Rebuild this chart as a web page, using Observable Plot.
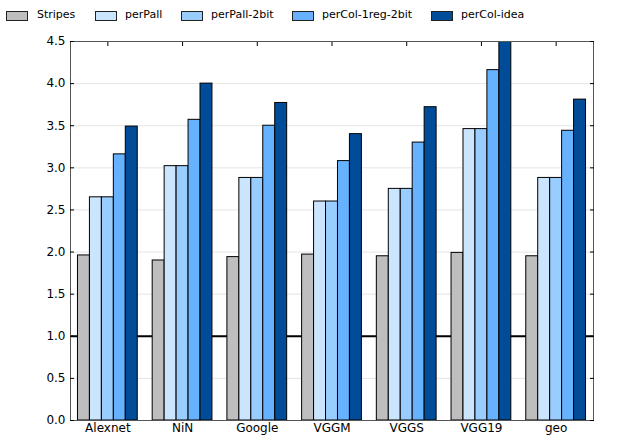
<!DOCTYPE html>
<html>
<head>
<meta charset="utf-8">
<script src="https://cdn.jsdelivr.net/npm/d3@7"></script>
<script src="https://cdn.jsdelivr.net/npm/@observablehq/plot@0.6"></script>
<style>
  body { margin: 0; background: #fff; font-family: "DejaVu Sans", sans-serif; }
  #legend { position: relative; height: 32px; font-size: 11px; color: #000; }
  #legend .sw { position: absolute; top: 11px; width: 20px; height: 8px; border: 1px solid #222; }
  #legend .lbl { position: absolute; top: 8px; line-height: 14px; white-space: nowrap; }
</style>
</head>
<body>
<div id="legend"></div>
<div id="chart"></div>
<script>
// Networks along the x axis
const models = ["Alexnet", "NiN", "Google", "VGGM", "VGGS", "VGG19", "geo"];
// Encoding schemes (legend order) and their fills
const series = ["Stripes", "perPall", "perPall-2bit", "perCol-1reg-2bit", "perCol-idea"];
const colors = ["#bebebe", "#cce5ff", "#99ccff", "#66b2ff", "#004c99"];

// Speedup per network for each scheme
const stripes        = [1.96, 1.90, 1.94, 1.97, 1.95, 1.99, 1.95];
const perPall        = [2.65, 3.02, 2.88, 2.60, 2.75, 3.46, 2.88];
const perPall2bit    = [2.65, 3.02, 2.88, 2.60, 2.75, 3.46, 2.88];
const perCol1reg2bit = [3.16, 3.57, 3.50, 3.08, 3.30, 4.16, 3.44];
const perColIdea     = [3.49, 4.00, 3.77, 3.40, 3.72, 4.60, 3.81];

// Y axis ticks and the reference line
const yTicks = [0, 0.5, 1, 1.5, 2, 2.5, 3, 3.5, 4, 4.5];
const baseline = [1.0];

const valuesBySeries = [stripes, perPall, perPall2bit, perCol1reg2bit, perColIdea];

// Dodge the bars inside each group: group spans 0.8 of a unit, 5 equal bars
const groupWidth = 0.8;
const barWidth = groupWidth / series.length;
const rows = [];
models.forEach((m, i) => {
  series.forEach((s, k) => {
    const x1 = i - groupWidth / 2 + k * barWidth;
    rows.push({ model: m, series: s, value: valuesBySeries[k][i], x1, x2: x1 + barWidth });
  });
});

// Legend: swatch and label left edges for each entry
const legendSwatchX = [6, 95, 181, 292, 431];
const legendLabelX = [37, 125, 211, 322, 461];
const legend = document.getElementById("legend");
series.forEach((s, k) => {
  const sw = document.createElement("div");
  sw.className = "sw";
  sw.style.left = legendSwatchX[k] + "px";
  sw.style.background = colors[k];
  const label = document.createElement("span");
  label.className = "lbl";
  label.style.left = legendLabelX[k] + "px";
  label.textContent = s;
  legend.append(sw, label);
});

const chart = Plot.plot({
  width: 624,
  height: 407,
  marginTop: 9,
  marginBottom: 19,
  marginLeft: 70,
  marginRight: 31,
  style: { fontFamily: "DejaVu Sans, sans-serif", fontSize: "12px", color: "#000", background: "#fff" },
  x: { domain: [-0.5, models.length - 0.5] },
  y: { domain: [0, 4.5] },
  color: { domain: series, range: colors },
  marks: [
    Plot.ruleY(yTicks, { stroke: "#e4e4e4", strokeWidth: 1 }),
    Plot.ruleY(baseline, { stroke: "#000", strokeWidth: 2 }),
    Plot.rect(rows, {
      x1: "x1", x2: "x2", y1: 0, y2: "value",
      fill: "series", stroke: "#000", strokeWidth: 1, clip: true
    }),
    Plot.frame({ stroke: "#555", strokeWidth: 1 }),
    Plot.axisY(yTicks, { anchor: "left", label: null, tickSize: 0, tickPadding: 5, tickFormat: d3.format(".1f") }),
    Plot.axisY(yTicks, { anchor: "left", label: null, tickSize: -4, text: null }),
    Plot.axisY(yTicks, { anchor: "right", label: null, tickSize: -4, text: null }),
    Plot.axisX(d3.range(models.length), { anchor: "bottom", label: null, tickSize: 0, tickPadding: 3, tickFormat: i => models[i] }),
    Plot.axisX(d3.range(models.length), { anchor: "top", label: null, tickSize: -4, text: null })
  ]
});
document.getElementById("chart").append(chart);
</script>
</body>
</html>
